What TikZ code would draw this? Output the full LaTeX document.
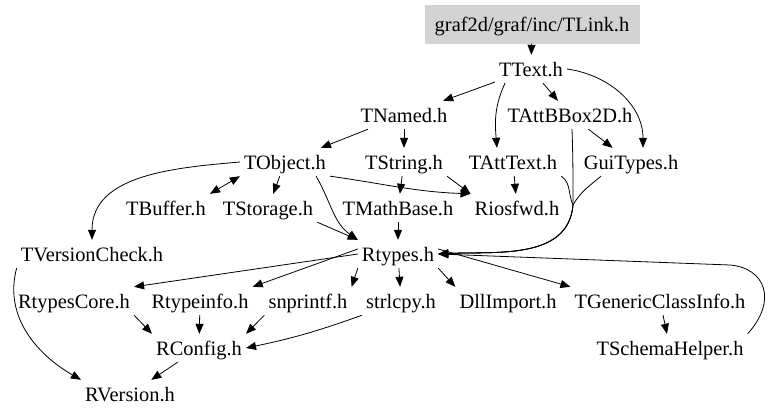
\documentclass[tikz,border=0pt]{standalone}
\usepackage{fontspec}
\setmainfont{Liberation Serif}
\usepackage{tikz}
\usetikzlibrary{arrows.meta}
\usetikzlibrary{positioning}
\definecolor{graybox}	{rgb}	{	0.827	,	0.827	,	0.827	}

\begin{document}
\begin{tikzpicture}[x=1bp,y=-1bp,
    every node/.append style={inner xsep=4bp,inner ysep=7bp,text height=14bp,text depth=0pt,
                              font=\fontsize{20.5}{24}\selectfont},
    inc/.style={line width=0.8bp,-{Triangle[length=10bp,width=8bp]}},
    incboth/.style={line width=0.8bp,{Triangle[length=10bp,width=8bp]}-{Triangle[length=10bp,width=8bp]}}]
  \useasboundingbox (0,0) rectangle (768,418);
  \node (tlink) at (532,24)
        [fill=graybox, minimum width=215bp, minimum height=39bp]
        {graf2d/graf/inc/TLink.h};
  \node (ttext) at (531,69) {TText.h};
  \node (tnamed) at (404,115) {TNamed.h};
  \node (tattbbox) at (570,115) {TAttBBox2D.h};
  \node (tobject) at (285,162) {TObject.h};
  \node (tstring) at (404,162) {TString.h};
  \node (tatttext) at (513,162) {TAttText.h};
  \node (guitypes) at (631,162) {GuiTypes.h};
  \node (tbuffer) at (166,208) {TBuffer.h};
  \node (tstorage) at (268,208) {TStorage.h};
  \node (tmathbase) at (398,208) {TMathBase.h};
  \node (riosfwd) at (517,208) {Riosfwd.h};
  \node (tversion) at (92,254) {TVersionCheck.h};
  \node (rtypes) at (398,254) {Rtypes.h};
  \node (rtypescore) at (74,301) {RtypesCore.h};
  \node (rtypeinfo) at (200,301) {Rtypeinfo.h};
  \node (snprintf) at (308,301) {snprintf.h};
  \node (strlcpy) at (401,301) {strlcpy.h};
  \node (dllimport) at (508,301) {DllImport.h};
  \node (tgeneric) at (660,301) {TGenericClassInfo.h};
  \node (rconfig) at (199,348) {RConfig.h};
  \node (tschema) at (670,348) {TSchemaHelper.h};
  \node (rversion) at (130,394) {RVersion.h};
  \coordinate (join) at (573,205);

  \draw[inc] (tlink) -- (ttext);
  \draw[inc] (ttext) -- (tnamed);
  \draw[inc] (ttext) -- (tattbbox);
  \draw[inc] ([xshift=-26bp]ttext.south) to[out=-115,in=95] ([xshift=-16bp]tatttext.north);
  \draw[inc] (ttext.east) to[out=-8,in=90] ([xshift=12bp]guitypes.north);
  \draw[inc] (tnamed) -- (tobject);
  \draw[inc] (tnamed) -- (tstring);
  \draw[inc] (tattbbox) -- (guitypes);
  \draw[inc] (tobject.west) to[out=185,in=90] (tversion.north);
  \draw[incboth] (tobject.south west) -- (tbuffer.north east);
  \draw[inc] (tobject) -- (tstorage);
  \draw[inc] ([xshift=-14bp]tobject.south east) to[out=-60,in=145] (rtypes.north west);
  \draw[inc] (tobject.south east) to[out=-8,in=178] (riosfwd.north west);
  \draw[inc] (tstring) -- (tmathbase);
  \draw[inc] (tstring.south east) -- (riosfwd.north west);
  \draw[inc] (tatttext) -- (riosfwd);
  \draw[inc] (tstorage.south east) -- (rtypes.north west);
  \draw[inc] (tmathbase) -- (rtypes);
  %\draw[inc] (tatttext) -- (rtypes);
  \draw[inc] (tatttext.south east) to[out=-35,in=115] (join) to[out=-95,in=3] (rtypes.east);
  \draw[inc] ([xshift=2bp]tattbbox.south) to[out=-88,in=90] (join) to[out=-95,in=3] (rtypes.east);
  \draw[inc] ([xshift=-30bp]guitypes.south) to[out=-140,in=60] (join) to[out=-95,in=3] (rtypes.east);
  \draw[inc] (tschema.north east) .. controls (778,300) and (765,268) .. (730,265) -- (rtypes.east);
  \draw[inc] (rtypes.west) -- (rtypescore.north east);
  \draw[inc] ([yshift=5bp]rtypes.west) -- (rtypeinfo.north east);
  \draw[inc] (rtypes.south west) -- (snprintf.north east);
  \draw[inc] (rtypes) -- (strlcpy);
  \draw[inc] (rtypes.south east) -- (dllimport.north west);
  \draw[inc] ([yshift=5bp]rtypes.east) -- (tgeneric.north west);
  \draw[inc] (tgeneric) -- (tschema);
  \draw[inc] (rtypescore.south east) -- (rconfig.north west);
  \draw[inc] (rtypeinfo) -- (rconfig);
  \draw[inc] (snprintf.south west) -- (rconfig.north east);
  \draw[inc] (strlcpy.south west) to[bend left=4] (rconfig.east);
  \draw[inc] (rconfig) -- (rversion);
  \draw[inc] (tversion.south west) to[out=-105,in=150] (rversion.north west);
\end{tikzpicture}
\end{document}
